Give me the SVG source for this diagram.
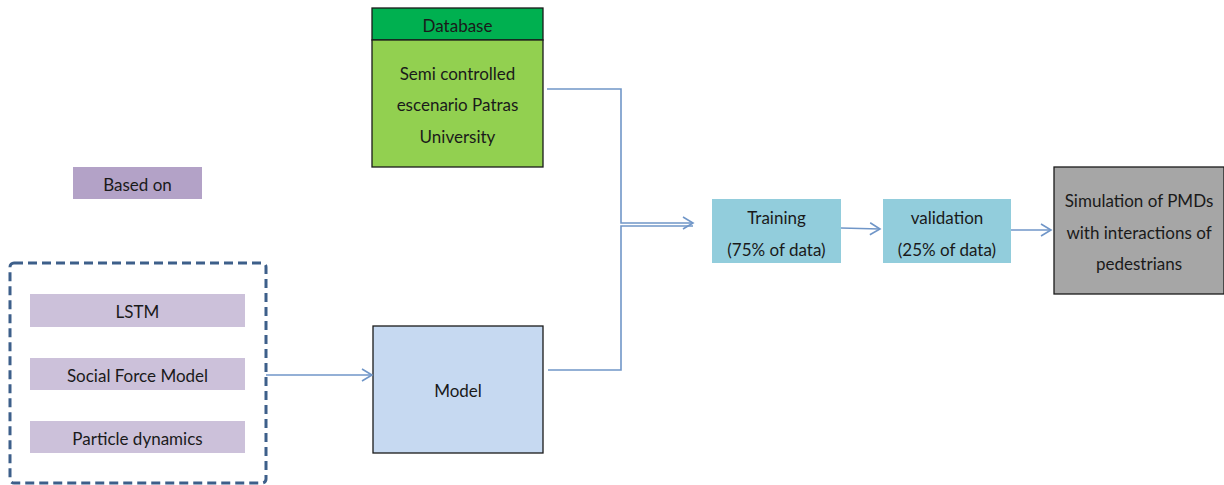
<svg xmlns="http://www.w3.org/2000/svg" width="1224" height="485" viewBox="0 0 1224 485">
  <style>
    text { font-family: Lato, "Open Sans", "Liberation Sans", sans-serif; font-size: 17px; fill: #1a1a1a; text-anchor: middle; }
    .box { stroke: #1a1a1a; stroke-width: 1.3; }
    .flat { stroke: none; }
    .conn { fill: none; stroke: #7096c8; stroke-width: 1.6; }
  </style>
  <defs>
    <marker id="open" markerWidth="14" markerHeight="14" refX="11" refY="7" orient="auto" markerUnits="userSpaceOnUse">
      <path d="M1,1 L11,7 L1,13" fill="none" stroke="#7096c8" stroke-width="1.6"/>
    </marker>
  </defs>
  <rect width="1224" height="485" fill="#ffffff"/>

  <g id="database">
    <rect class="box" x="372" y="8" width="171" height="32" fill="#00b050"/>
    <rect class="box" x="372" y="40" width="171" height="127" fill="#92d050"/>
    <text x="457.5" y="32">Database</text>
    <text x="457.5" y="80">Semi controlled</text>
    <text x="457.5" y="111">escenario Patras</text>
    <text x="457.5" y="143">University</text>
  </g>

  <g id="based-on">
    <rect class="flat" x="73" y="167" width="129" height="32" fill="#b3a2c7"/>
    <text x="137.5" y="191">Based on</text>
  </g>

  <g id="methods">
    <rect x="10" y="263" width="256" height="220" rx="4" fill="none" stroke="#3d5f8a" stroke-width="3" stroke-dasharray="9,5"/>
    <g id="lstm">
      <rect class="flat" x="30" y="294" width="215" height="33" fill="#ccc1da"/>
      <text x="137.5" y="318">LSTM</text>
    </g>
    <g id="social-force">
      <rect class="flat" x="30" y="358" width="215" height="32" fill="#ccc1da"/>
      <text x="137.5" y="382">Social Force Model</text>
    </g>
    <g id="particle">
      <rect class="flat" x="30" y="421" width="215" height="32" fill="#ccc1da"/>
      <text x="137.5" y="445">Particle dynamics</text>
    </g>
  </g>

  <g id="model">
    <rect class="box" x="373" y="326" width="170" height="127" fill="#c6d9f1"/>
    <text x="458" y="397">Model</text>
  </g>

  <g id="training">
    <rect class="flat" x="712" y="199" width="129" height="64" fill="#92cddc"/>
    <text x="776.5" y="224">Training</text>
    <text x="776.5" y="256">(75% of data)</text>
  </g>

  <g id="validation">
    <rect class="flat" x="883" y="199" width="128" height="64" fill="#92cddc"/>
    <text x="947" y="224">validation</text>
    <text x="947" y="256">(25% of data)</text>
  </g>

  <g id="simulation">
    <rect class="box" x="1054" y="167" width="170" height="127" fill="#a6a6a6"/>
    <text x="1139" y="207">Simulation of PMDs</text>
    <text x="1139" y="239">with interactions of</text>
    <text x="1139" y="270">pedestrians</text>
  </g>

  <g id="connectors">
    <path class="conn" d="M266,375 H372" marker-end="url(#open)"/>
    <path class="conn" d="M547,89 H621 V223 H693" marker-end="url(#open)"/>
    <path class="conn" d="M548,370 H621 V226 H693"/>
    <path class="conn" d="M841,228 L880,229" marker-end="url(#open)"/>
    <path class="conn" d="M1011,230 H1051" marker-end="url(#open)"/>
  </g>
</svg>
